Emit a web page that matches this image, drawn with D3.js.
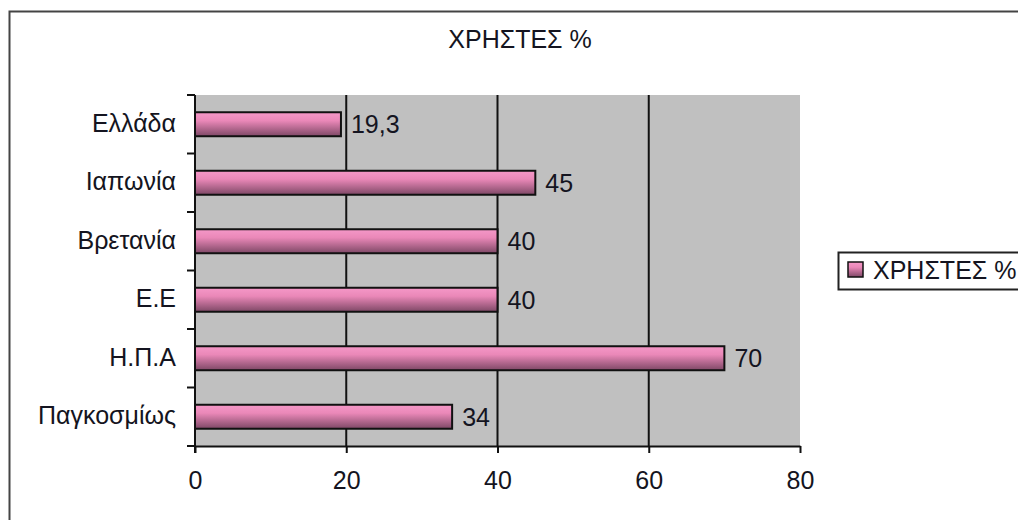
<!DOCTYPE html>
<html><head><meta charset="utf-8">
<script src="https://cdn.jsdelivr.net/npm/d3@7"></script>
<style>body{margin:0;background:#fff}svg{display:block}text{font-family:"Liberation Sans",Arial,sans-serif;fill:#141420}</style>
</head><body>
<svg id="c" width="1018" height="520"></svg>
<script>
const categories = ["Ελλάδα","Ιαπωνία","Βρετανία","Ε.Ε","Η.Π.Α","Παγκοσμίως"];
const values = [19.3, 45, 40, 40, 70, 34];
const valueLabels = ["19,3","45","40","40","70","34"];
const xTicks = [0,20,40,60,80];
const seriesName = "ΧΡΗΣΤΕΣ %";
const title = "ΧΡΗΣΤΕΣ %";

const FS = 25;
const svg = d3.select("#c");
const defs = svg.append("defs");
const g = defs.append("linearGradient").attr("id","bg").attr("x1",0).attr("y1",0).attr("x2",0).attr("y2",1);
g.append("stop").attr("offset","0%").attr("stop-color","#f598c8");
g.append("stop").attr("offset","35%").attr("stop-color","#ea88b8");
g.append("stop").attr("offset","100%").attr("stop-color","#7e4866");

// outer frame
svg.append("rect").attr("x",9.5).attr("y",11.5).attr("width",1030).attr("height",530)
  .attr("fill","#fff").attr("stroke","#444").attr("stroke-width",2);

const L=195, R=800, T=95, B=446;
const x = d3.scaleLinear().domain([0,80]).range([L,R]);
const y = d3.scaleBand().domain(categories).range([T,B]).paddingInner(0.59).paddingOuter(0.295);
const yb = d3.scaleBand().domain(categories).range([T,B]);

svg.append("rect").attr("x",L).attr("y",T).attr("width",R-L).attr("height",B-T).attr("fill","#c0c0c0");

// gridlines
svg.append("g").selectAll("line").data(xTicks.filter(d=>d>0 && d<80)).join("line")
  .attr("x1",d=>x(d)).attr("x2",d=>x(d)).attr("y1",T).attr("y2",B)
  .attr("stroke","#111").attr("stroke-width",2);

// bars
svg.append("g").selectAll("rect").data(categories).join("rect")
  .attr("x",x(0)).attr("y",d=>y(d)).attr("width",(d,i)=>x(values[i])-x(0)).attr("height",y.bandwidth())
  .attr("fill","url(#bg)").attr("stroke","#111").attr("stroke-width",2);

// value labels
svg.append("g").selectAll("text").data(categories).join("text")
  .attr("x",(d,i)=>x(values[i])+10).attr("y",d=>y(d)+y.bandwidth()/2).attr("dy","0.36em")
  .attr("font-size",FS).text((d,i)=>valueLabels[i]);

// x axis
const xa = svg.append("g").attr("transform",`translate(0,${B})`)
  .call(d3.axisBottom(x).tickValues(xTicks).tickSize(7).tickPadding(18).tickSizeOuter(0));
xa.select(".domain").attr("stroke","#111").attr("stroke-width",2);
xa.selectAll(".tick line").attr("stroke","#111").attr("stroke-width",2);
xa.selectAll("text").attr("font-size",FS).attr("fill","#141420").style("font-family","'Liberation Sans',Arial,sans-serif");

// y axis
svg.append("line").attr("x1",L).attr("x2",L).attr("y1",T).attr("y2",B+7).attr("stroke","#111").attr("stroke-width",2);
const bounds = categories.map(c=>yb(c)).concat([B]);
svg.append("g").selectAll("line").data(bounds).join("line")
  .attr("x1",L-8).attr("x2",L).attr("y1",d=>d).attr("y2",d=>d).attr("stroke","#111").attr("stroke-width",2);
svg.append("g").selectAll("text").data(categories).join("text")
  .attr("x",L-19).attr("y",d=>yb(d)+yb.bandwidth()/2).attr("dy","0.3em").attr("text-anchor","end")
  .attr("font-size",FS).text(d=>d);

// title
svg.append("text").attr("x",520).attr("y",48).attr("text-anchor","middle").attr("font-size",FS).text(title);

// legend
svg.append("rect").attr("x",838.5).attr("y",252.5).attr("width",190).attr("height",37)
  .attr("fill","#fff").attr("stroke","#222").attr("stroke-width",2);
svg.append("rect").attr("x",848).attr("y",262).attr("width",15).attr("height",15)
  .attr("fill","url(#bg)").attr("stroke","#111").attr("stroke-width",1.5);
svg.append("text").attr("x",873).attr("y",279).attr("font-size",FS).text(seriesName);
</script>
</body></html>
